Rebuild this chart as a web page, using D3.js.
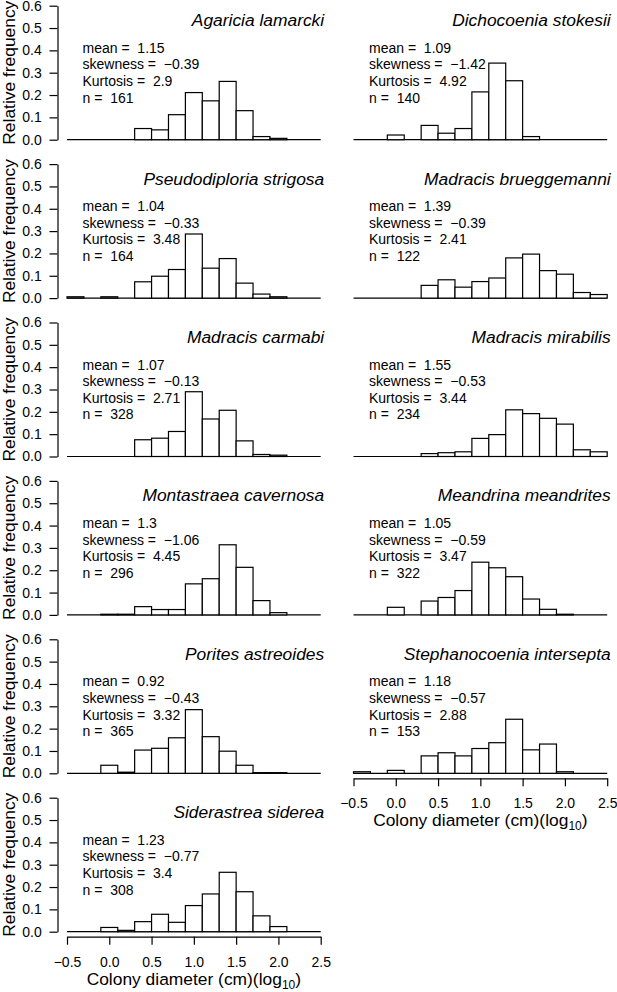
<!DOCTYPE html>
<html>
<head>
<meta charset="utf-8">
<script src="https://cdn.jsdelivr.net/npm/d3@7"></script>
<style>
    body { margin: 0; background: #fff; }
    text { font-family: "Liberation Sans", Arial, Helvetica, sans-serif; fill: #000; }
</style>
</head>
<body>
<div class="svg_container"></div>
<script>
// Histogram bins (log10 colony diameter, cm)
var binEdges = [-0.5, -0.3, -0.1, 0.1, 0.3, 0.5, 0.7, 0.9, 1.1, 1.3, 1.5, 1.7, 1.9, 2.1, 2.3, 2.5];
var xTicks = [-0.5, 0.0, 0.5, 1.0, 1.5, 2.0, 2.5];
var yTicks = [0.0, 0.1, 0.2, 0.3, 0.4, 0.5, 0.6];

// Panels in reading order (row by row, left then right)
var species = ["Agaricia lamarcki", "Dichocoenia stokesii",
               "Pseudodiploria strigosa", "Madracis brueggemanni",
               "Madracis carmabi", "Madracis mirabilis",
               "Montastraea cavernosa", "Meandrina meandrites",
               "Porites astreoides", "Stephanocoenia intersepta",
               "Siderastrea siderea"];
var means     = [1.15, 1.09, 1.04, 1.39, 1.07, 1.55, 1.3, 1.05, 0.92, 1.18, 1.23];
var skewness  = [-0.39, -1.42, -0.33, -0.39, -0.13, -0.53, -1.06, -0.59, -0.43, -0.57, -0.77];
var kurtosis  = [2.9, 4.92, 3.48, 2.41, 2.71, 3.44, 4.45, 3.47, 3.32, 2.88, 3.4];
var nColonies = [161, 140, 164, 122, 328, 234, 296, 322, 365, 153, 308];

// Relative frequency per bin (15 bins)
var freqAgaricia       = [0, 0, 0, 0, 0.050, 0.044, 0.112, 0.211, 0.174, 0.261, 0.130, 0.014, 0.006, 0, 0];
var freqDichocoenia    = [0, 0, 0.021, 0, 0.064, 0.029, 0.050, 0.214, 0.343, 0.264, 0.014, 0, 0, 0, 0];
var freqPseudodiploria = [0.006, 0, 0.006, 0, 0.073, 0.098, 0.128, 0.287, 0.134, 0.177, 0.067, 0.018, 0.006, 0, 0];
var freqBrueggemanni   = [0, 0, 0, 0, 0.057, 0.082, 0.049, 0.074, 0.090, 0.180, 0.197, 0.123, 0.107, 0.025, 0.016];
var freqCarmabi        = [0, 0, 0, 0, 0.075, 0.082, 0.112, 0.290, 0.168, 0.207, 0.070, 0.009, 0.006, 0, 0];
var freqMirabilis      = [0, 0, 0, 0, 0.013, 0.017, 0.021, 0.081, 0.098, 0.209, 0.192, 0.171, 0.145, 0.030, 0.021];
var freqMontastraea    = [0, 0, 0.003, 0.003, 0.037, 0.024, 0.024, 0.139, 0.162, 0.314, 0.213, 0.064, 0.010, 0, 0];
var freqMeandrina      = [0, 0, 0.034, 0, 0.062, 0.078, 0.109, 0.236, 0.211, 0.171, 0.071, 0.025, 0.003, 0, 0];
var freqPorites        = [0, 0, 0.036, 0.005, 0.104, 0.112, 0.159, 0.285, 0.164, 0.099, 0.036, 0.003, 0.003, 0, 0];
var freqStephanocoenia = [0.007, 0, 0.013, 0, 0.078, 0.092, 0.078, 0.111, 0.137, 0.242, 0.105, 0.131, 0.007, 0, 0];
var freqSiderastrea    = [0, 0, 0.019, 0.006, 0.045, 0.078, 0.042, 0.117, 0.169, 0.266, 0.179, 0.071, 0.023, 0, 0];

var frequencies = [freqAgaricia, freqDichocoenia, freqPseudodiploria, freqBrueggemanni,
                   freqCarmabi, freqMirabilis, freqMontastraea, freqMeandrina,
                   freqPorites, freqStephanocoenia, freqSiderastrea];

// Layout
var W = 617, H = 992;
var COL_X = [67, 353.5];       // pixel position of x = -0.5 for each column
var X_SPAN = 253.7;            // pixels from -0.5 to 2.5
var ROW0_BASE = 139.7;         // y of 0.0 in first row
var ROW_STEP = 158.4;
var Y_SPAN = 134;              // pixels from 0.0 to 0.6
var LW = 1.2;

var minus = function(v) { return v < 0 ? "\u2212" + Math.abs(v) : String(v); };
// R's paste() leaves two spaces after "="
var SEP = " =\u00a0 ";

var svg = d3.select("div.svg_container")
    .append("svg")
    .attr("width", W)
    .attr("height", H);

species.forEach(function(name, i) {
    var col = i % 2;
    var row = Math.floor(i / 2);
    var base = ROW0_BASE + row * ROW_STEP;
    var lastInColumn = i + 2 >= species.length;

    var x = d3.scaleLinear().domain([-0.5, 2.5]).range([COL_X[col], COL_X[col] + X_SPAN]);
    var y = d3.scaleLinear().domain([0, 0.6]).range([base, base - Y_SPAN]);

    var g = svg.append("g").attr("class", "panel");

    // bins
    var bins = frequencies[i].map(function(f, k) {
        return { x0: binEdges[k], x1: binEdges[k + 1], f: f };
    });

    // baseline at 0
    g.append("line")
        .attr("x1", x(-0.5)).attr("x2", x(2.5))
        .attr("y1", y(0)).attr("y2", y(0))
        .attr("stroke", "#000").attr("stroke-width", LW);

    g.selectAll("rect.bar")
        .data(bins)
        .enter()
        .append("rect")
            .attr("class", "bar")
            .attr("x", function(d) { return x(d.x0); })
            .attr("width", function(d) { return x(d.x1) - x(d.x0); })
            .attr("y", function(d) { return y(d.f); })
            .attr("height", function(d) { return y(0) - y(d.f); })
            .attr("fill", "#fff")
            .attr("stroke", "#000")
            .attr("stroke-width", LW);

    // species name (italic, right aligned)
    g.append("text")
        .attr("x", x(2.5) + 3.5)
        .attr("y", base - 113.5)
        .attr("text-anchor", "end")
        .style("font-style", "italic")
        .style("font-size", "17.4px")
        .text(name);

    // summary statistics
    var stats = [
        "mean" + SEP + minus(means[i]),
        "skewness" + SEP + minus(skewness[i]),
        "Kurtosis" + SEP + minus(kurtosis[i]),
        "n" + SEP + nColonies[i]
    ];
    g.selectAll("text.stat")
        .data(stats)
        .enter()
        .append("text")
            .attr("class", "stat")
            .attr("x", x(-0.5) + 15.5)
            .attr("y", function(d, k) { return base - 87 + k * 16.6; })
            .style("font-size", "14px")
            .text(function(d) { return d; });

    // y axis on left column only
    if (col === 0) {
        var yAxis = g.append("g")
            .attr("transform", "translate(" + (x(-0.5) - 9.5) + ",0)")
            .call(d3.axisLeft(y)
                .tickValues(yTicks)
                .tickFormat(d3.format(".1f"))
                .tickSize(8)
                .tickSizeOuter(0)
                .tickPadding(7.8));
        yAxis.selectAll("path, line").attr("stroke", "#000").attr("stroke-width", LW);
        yAxis.selectAll("text")
            .style("font-size", "14px")
            .style("font-family", "'Liberation Sans', Arial, Helvetica, sans-serif");

        g.append("text")
            .attr("transform", "translate(15," + (base - 67) + ") rotate(-90)")
            .attr("text-anchor", "middle")
            .style("font-size", "17.4px")
            .text("Relative frequency");
    }

    // x axis on bottom panel of each column
    if (lastInColumn) {
        var xAxis = g.append("g")
            .attr("transform", "translate(0," + (base + 5) + ")")
            .call(d3.axisBottom(x)
                .tickValues(xTicks)
                .tickFormat(d3.format(".1f"))
                .tickSize(8)
                .tickSizeOuter(0)
                .tickPadding(12.2));
        xAxis.selectAll("path, line").attr("stroke", "#000").attr("stroke-width", LW);
        xAxis.selectAll("text")
            .style("font-size", "14px")
            .style("font-family", "'Liberation Sans', Arial, Helvetica, sans-serif");

        var title = g.append("text")
            .attr("x", x(1.0))
            .attr("y", base + 52.8)
            .attr("text-anchor", "middle")
            .style("font-size", "17.4px");
        title.append("tspan").text("Colony diameter (cm)(log");
        title.append("tspan").attr("dy", 4).style("font-size", "12px").text("10");
        title.append("tspan").attr("dy", -4).text(")");
    }
});
</script>
</body>
</html>
